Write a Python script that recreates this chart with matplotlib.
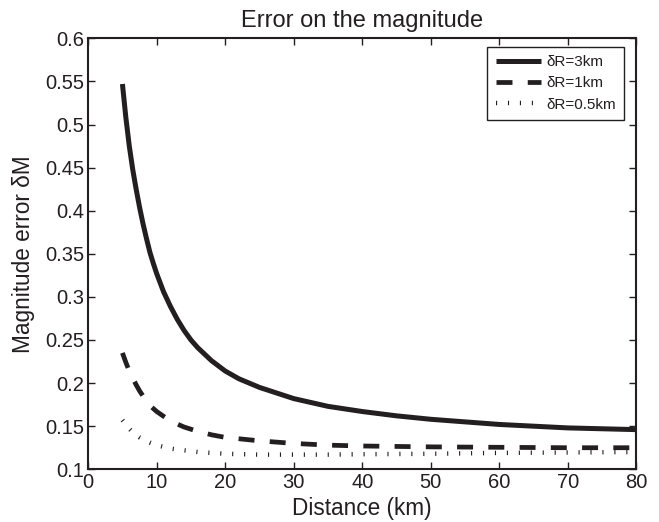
import matplotlib
matplotlib.use("Agg")
import matplotlib.pyplot as plt
from matplotlib.ticker import FixedLocator

plt.rcParams['font.family'] = ['Liberation Sans', 'DejaVu Sans']
plt.rcParams['lines.scale_dashes'] = False

# Data
dist_solid = [5, 5.5, 6, 6.5, 7, 7.5, 8, 8.5, 9, 9.5, 10, 11, 12, 13, 14, 15, 16, 18, 20, 22, 25,
              30, 35, 40, 45, 50, 55, 60, 65, 70, 75, 80]
err_3km = [0.547, 0.508, 0.475, 0.448, 0.425, 0.404, 0.385, 0.368, 0.352, 0.339, 0.327, 0.306, 0.289,
           0.274, 0.261, 0.250, 0.241, 0.226, 0.214, 0.205, 0.195, 0.182, 0.173, 0.167, 0.162, 0.158,
           0.155, 0.152, 0.150, 0.148, 0.147, 0.146]

dist_dash = [5, 5.5, 6, 6.5, 7, 7.5, 8, 9, 10, 12, 14, 16, 18, 20, 25, 30, 35, 40, 50, 60, 70, 80]
err_1km = [0.235, 0.224, 0.214, 0.206, 0.198, 0.191, 0.185, 0.174, 0.167, 0.156, 0.149, 0.144, 0.140,
           0.137, 0.133, 0.130, 0.128, 0.127, 0.126, 0.1255, 0.125, 0.125]

dist_dot = [5, 5.5, 6, 6.5, 7, 7.5, 8, 9, 10, 12, 14, 16, 18, 20, 25, 30, 35, 40, 50, 60, 70, 80]
err_05km = [0.157, 0.152, 0.147, 0.143, 0.140, 0.137, 0.135, 0.131, 0.128, 0.124, 0.122, 0.120,
            0.119, 0.118, 0.117, 0.117, 0.117, 0.1175, 0.118, 0.119, 0.1195, 0.120]

labels = ['δR=3km', 'δR=1km', 'δR=0.5km']
xticks = [0, 10, 20, 30, 40, 50, 60, 70, 80]
yticks = [0.1, 0.15, 0.2, 0.25, 0.3, 0.35, 0.4, 0.45, 0.5, 0.55, 0.6]
yticklabels = ['0.1', '0.15', '0.2', '0.25', '0.3', '0.35', '0.4', '0.45', '0.5', '0.55', '0.6']

fig = plt.figure(figsize=(6.59, 5.22), dpi=100)
ax = fig.add_axes([0.1338, 0.1010, 0.8318, 0.8256])

col = '#231f20'
lw = 3.6
ax.plot(dist_solid, err_3km, color=col, lw=lw, solid_capstyle='butt',
        solid_joinstyle='round', label=labels[0])
ax.plot(dist_dash, err_1km, color=col, lw=lw * 0.95, linestyle=(0, (11.5, 11.0)),
        dash_capstyle='butt', label=labels[1])
ax.plot(dist_dot, err_05km, color=col, lw=3.2, linestyle=(0, (0.8, 7.8)),
        dash_capstyle='butt', label=labels[2])

ax.set_xlim(0, 80)
ax.set_ylim(0.1, 0.6)
ax.xaxis.set_major_locator(FixedLocator(xticks))
ax.set_xticklabels([str(t) for t in xticks])
ax.yaxis.set_major_locator(FixedLocator(yticks))
ax.set_yticklabels(yticklabels)

ax.tick_params(direction='in', length=5, width=1, top=True, right=True,
               labelsize=14.5, colors=col, pad=3)
for s in ax.spines.values():
    s.set_linewidth(1.5)
    s.set_color(col)

ax.set_title('Error on the magnitude', fontsize=17, color=col, pad=8)
ax.set_xlabel('Distance (km)', fontsize=16.3, color=col, labelpad=3)
ax.set_ylabel('Magnitude error δM', fontsize=16.3, color=col, labelpad=7)

leg = ax.legend(loc='upper right', bbox_to_anchor=(0.978, 0.9805), borderaxespad=0,
                fontsize=11, handlelength=2.95, handletextpad=0.35, labelspacing=0.48,
                fancybox=False, framealpha=1, edgecolor=col, borderpad=0.55)
leg.get_frame().set_linewidth(1.0)
for t in leg.get_texts():
    t.set_color(col)

fig.savefig('out.png', dpi=100)
